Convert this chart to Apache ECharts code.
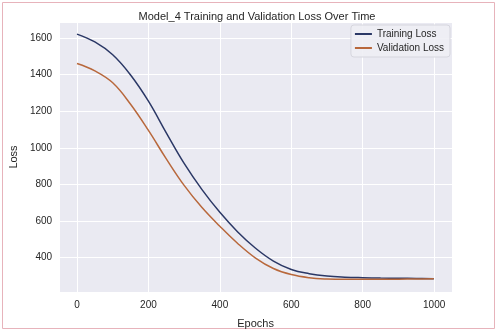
<!DOCTYPE html>
<html>
<head>
<meta charset="utf-8">
<script src="https://cdn.jsdelivr.net/npm/echarts@6/dist/echarts.min.js"></script>
<style>
  html, body { margin: 0; padding: 0; background: #fff; }
  #chart { width: 498px; height: 334px; }
</style>
</head>
<body>
<div id="chart"></div>
<script>
// values
const epochs = [0, 50, 100, 150, 200, 250, 300, 350, 400, 450, 500, 550, 600, 650, 700, 750, 800, 850, 900, 950, 999]
const trainingLoss = [1621, 1578, 1508, 1398, 1255, 1082, 915, 772, 648, 541, 452, 382, 336, 313, 300, 294, 291, 289, 288, 287, 286]
const validationLoss = [1460, 1420, 1355, 1238, 1095, 940, 795, 674, 572, 478, 398, 341, 308, 291, 284, 282, 282, 282, 283, 284, 285]

const font = "'Liberation Sans', Arial, sans-serif"
const chart = echarts.init(document.getElementById('chart'))

const pairs = (ys) => epochs.map((e, i) => [e, ys[i]])

chart.setOption({
  backgroundColor: '#fff',
  animation: false,
  title: {
    text: 'Model_4 Training and Validation Loss Over Time',
    left: 252,
    textAlign: 'center',
    top: 6,
    textStyle: { fontFamily: font, fontSize: 11, fontWeight: 'normal', color: '#262626' }
  },
  legend: {
    orient: 'vertical',
    right: 48,
    top: 25,
    itemWidth: 17,
    itemHeight: 2,
    itemGap: 4,
    padding: [4, 6, 4, 4],
    backgroundColor: 'rgba(238,238,244,0.9)',
    borderColor: '#d6d6de',
    borderWidth: 1,
    borderRadius: 3,
    textStyle: { fontFamily: font, fontSize: 10, color: '#262626' },
    data: [
      { name: 'Training Loss', icon: 'rect' },
      { name: 'Validation Loss', icon: 'rect' }
    ]
  },
  grid: {
    left: 53,
    right: 46,
    top: 22,
    bottom: 38,
    show: true,
    backgroundColor: '#eaeaf2',
    borderWidth: 0
  },
  xAxis: {
    type: 'value',
    min: -50,
    max: 1050,
    splitNumber: 5,
    name: 'Epochs',
    nameLocation: 'middle',
    nameGap: 26,
    nameTextStyle: { fontFamily: font, fontSize: 11, color: '#262626' },
    axisLine: { show: false },
    axisTick: { show: false },
    axisLabel: { showMinLabel: false, showMaxLabel: false, margin: 8, fontFamily: font, fontSize: 10, color: '#262626', formatter: (v) => String(v) },
    splitLine: { show: true, lineStyle: { color: '#ffffff', width: 1 } }
  },
  yAxis: {
    type: 'value',
    min: 213,
    max: 1687,
    splitNumber: 7,
    name: 'Loss',
    nameLocation: 'middle',
    nameGap: 33,
    nameTextStyle: { fontFamily: font, fontSize: 11, color: '#262626' },
    axisLine: { show: false },
    axisTick: { show: false },
    axisLabel: { showMinLabel: false, showMaxLabel: false, margin: 7, fontFamily: font, fontSize: 10, color: '#262626', formatter: (v) => String(v) },
    splitLine: { show: true, lineStyle: { color: '#ffffff', width: 1 } }
  },
  graphic: [{
    type: 'rect',
    shape: { x: 2.5, y: 2.5, width: 492, height: 326 },
    style: { fill: 'none', stroke: '#e7b3bb', lineWidth: 1 },
    silent: true
  }],
  series: [
    {
      name: 'Training Loss',
      type: 'line',
      data: pairs(trainingLoss),
      smooth: 0.4,
      showSymbol: false,
      lineStyle: { color: '#2b3866', width: 1.5 },
      itemStyle: { color: '#2b3866' }
    },
    {
      name: 'Validation Loss',
      type: 'line',
      data: pairs(validationLoss),
      smooth: 0.4,
      showSymbol: false,
      lineStyle: { color: '#b8683c', width: 1.5 },
      itemStyle: { color: '#b8683c' }
    }
  ]
})
</script>
</body>
</html>
